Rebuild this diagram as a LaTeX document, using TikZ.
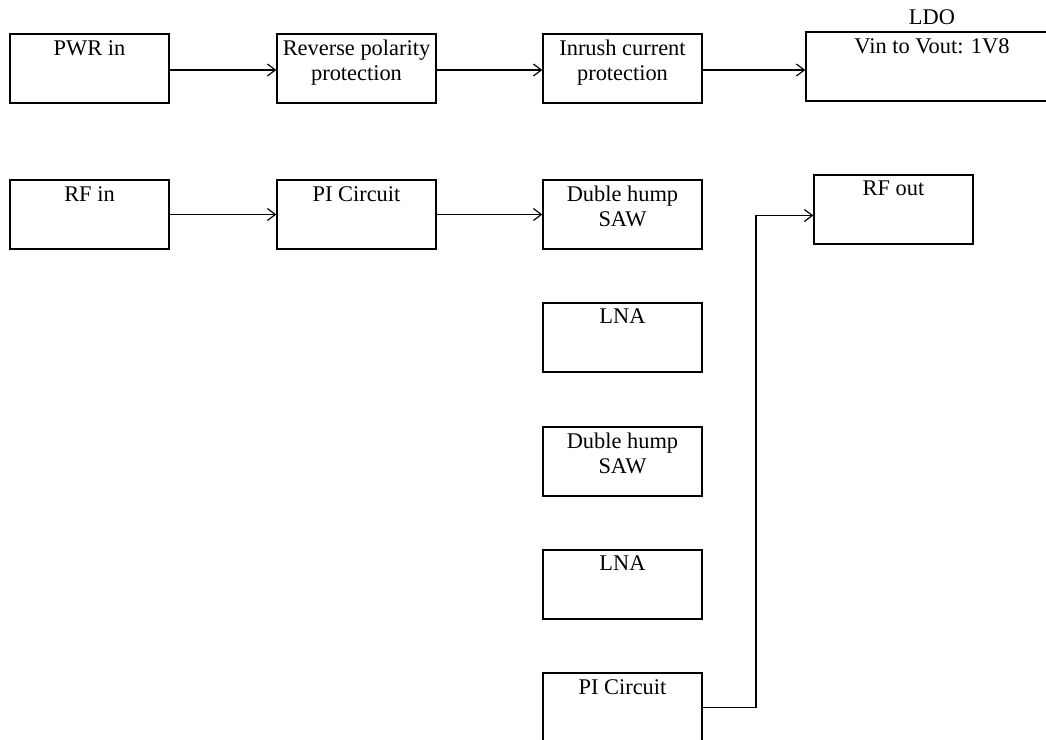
\documentclass[tikz,border=0pt]{standalone}
\usepackage{fontspec}
\setmainfont{Liberation Serif}
\usetikzlibrary{arrows.meta}

\tikzset{
    block/.style={draw, line width=0.6pt, minimum width=79.5pt, minimum height=34.5pt, inner sep=0pt},
    toptext/.style={anchor=north, align=center, inner sep=3.2pt},
    arr/.style={line width=0.6pt, -{Straight Barb[length=4pt, width=6pt]}}
}

\begin{document}
\begin{tikzpicture}[x=0.5pt, y=-0.5pt, font=\fontsize{11.2}{12.5}\selectfont]
    % frame of the page
    \path[use as bounding box, clip] (0,0) rectangle (1046,740);

    % power chain
    \node[block, label={[toptext]north:PWR in}] (pwrin) at (89.5,68.5) {};
    \node[block, label={[toptext]north:{Reverse polarity\\protection}}] (revpol) at (356.5,68.5) {};
    \node[block, label={[toptext]north:{Inrush current\\protection}}] (inrush) at (622.5,68.5) {};
    \node[block, minimum width=126pt,
          label={[toptext]north:{Vin to Vout: 1V8}},
          label={[anchor=south, inner sep=3pt]north:LDO}] (ldo) at (932,66.5) {};

    % rf chain
    \node[block, label={[toptext]north:RF in}] (rfin) at (89.5,214.5) {};
    \node[block, label={[toptext]north:PI Circuit}] (pione) at (356.5,214.5) {};
    \node[block, label={[toptext]north:{Duble hump\\SAW}}] (sawone) at (622.5,214.5) {};
    \node[block, label={[toptext]north:LNA}] (lnaone) at (622.5,337.5) {};
    \node[block, label={[toptext]north:{Duble hump\\SAW}}] (sawtwo) at (622.5,461.5) {};
    \node[block, label={[toptext]north:LNA}] (lnatwo) at (622.5,584.5) {};
    \node[block, label={[toptext]north:PI Circuit}] (pitwo) at (622.5,707.5) {};
    \node[block, label={[toptext]north:RF out}] (rfout) at (893.5,209.5) {};

    % connectors
    \draw[arr] ([yshift=-0.75pt]pwrin.east) -- ([yshift=-0.75pt]revpol.west);
    \draw[arr] ([yshift=-0.75pt]revpol.east) -- ([yshift=-0.75pt]inrush.west);
    \draw[arr] ([yshift=-0.75pt]inrush.east) -- ([yshift=-0.75pt]inrush.east -| ldo.west);
    \draw[arr] (rfin.east) -- (pione.west);
    \draw[arr] (pione.east) -- (sawone.west);

    \coordinate (bend) at (756,460);
    \draw[arr] (pitwo.east) -| (bend) |- ([yshift=-3pt]rfout.west);
\end{tikzpicture}
\end{document}
